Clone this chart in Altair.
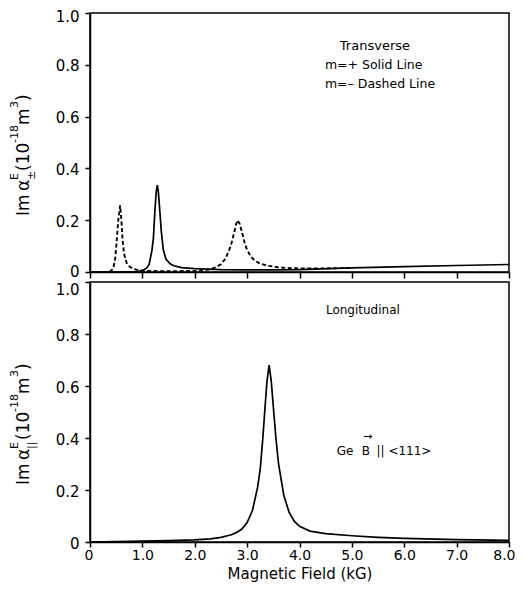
import altair as alt
import pandas as pd

# ---------------- data ----------------
# Transverse, m=+ (solid line)
plus_field = [0, 0.5, 0.9, 1.0, 1.08, 1.13, 1.18, 1.21, 1.24, 1.265, 1.285, 1.305, 1.335, 1.36,
              1.4, 1.45, 1.53, 1.6, 1.75, 2.0, 2.5, 3.0, 3.5, 4.0, 5.0, 6.0, 7.0, 8.0]
plus_value = [0, 0, 0.002, 0.005, 0.015, 0.03, 0.08, 0.13, 0.24, 0.31, 0.335, 0.31, 0.23, 0.16,
              0.085, 0.05, 0.032, 0.024, 0.017, 0.013, 0.009, 0.008, 0.008, 0.009, 0.016, 0.021, 0.025, 0.029]

# Transverse, m=- (dashed line)
minus_field = [0, 0.35, 0.41, 0.45, 0.48, 0.51, 0.54, 0.575, 0.6, 0.62, 0.65, 0.7, 0.76, 0.83,
               0.95, 1.1, 1.5, 2.0, 2.2, 2.3, 2.4, 2.5, 2.58, 2.65, 2.7, 2.75, 2.79, 2.82, 2.86,
               2.9, 2.95, 3.0, 3.07, 3.15, 3.25, 3.4, 3.6, 3.8, 4.0, 4.5, 5.0]
minus_value = [0, 0, 0.005, 0.02, 0.05, 0.12, 0.2, 0.257, 0.2, 0.13, 0.07, 0.035, 0.02, 0.012,
               0.006, 0.004, 0.003, 0.004, 0.007, 0.011, 0.018, 0.03, 0.05, 0.08, 0.11, 0.15, 0.185,
               0.2, 0.185, 0.155, 0.115, 0.085, 0.06, 0.043, 0.032, 0.024, 0.018, 0.015, 0.014, 0.014, 0.016]

# Longitudinal
long_field = [0, 1.0, 1.5, 2.0, 2.3, 2.5, 2.7, 2.8, 2.9, 3.0, 3.1, 3.2, 3.25, 3.3, 3.35, 3.38,
              3.42, 3.46, 3.5, 3.55, 3.6, 3.7, 3.8, 3.9, 4.0, 4.2, 4.5, 5.0, 5.5, 6.0, 7.0, 8.0]
long_value = [0.0, 0.003, 0.005, 0.008, 0.012, 0.018, 0.028, 0.037, 0.05, 0.075, 0.12, 0.21, 0.28,
              0.40, 0.54, 0.62, 0.68, 0.62, 0.52, 0.40, 0.30, 0.18, 0.115, 0.08, 0.06, 0.042, 0.032,
              0.024, 0.018, 0.014, 0.009, 0.006]

x_ticks = [0, 1, 2, 3, 4, 5, 6, 7, 8]
y_ticks = [0, 0.2, 0.4, 0.6, 0.8, 1.0]

# annotations
top_notes = ["Transverse", "m=+ Solid Line", "m=– Dashed Line"]
bottom_notes = ["Longitudinal", "Ge", "B", "|| <111>", "→"]

FONT = "DejaVu Sans"
W, H1, H2 = 419, 259, 260

xscale = alt.Scale(domain=[0, 8], nice=False, zero=False)
yscale = alt.Scale(domain=[0, 1], nice=False, zero=False)
lab_expr = "datum.value == 0 ? '0' : format(datum.value, '.1f')"


def yaxis(top_shift, top_baseline, zero_shift):
    return alt.Axis(values=y_ticks, labelExpr=lab_expr, title=None, grid=False,
                    tickSize=5, labelFontSize=15, labelPadding=6,
                    labelOffset=alt.expr(
                        f"datum.value == 1 ? {top_shift} : (datum.value == 0 ? {zero_shift} : 1)"),
                    labelBaseline={"condition": {"test": "datum.value == 1", "value": top_baseline},
                                   "value": "middle"})


def xaxis(show_labels):
    if show_labels:
        return alt.Axis(values=x_ticks, labelExpr=lab_expr, title="Magnetic Field (kG)",
                        grid=False, tickSize=5, labelFontSize=14, labelPadding=1,
                        titleFontSize=15, titleFontWeight="normal", titlePadding=4,
                        labelFlush=True, labelFlushOffset=6)
    return alt.Axis(values=x_ticks, labels=False, title=None, grid=False, tickSize=6)


def curve(field, value, show_axes, labels=False, dash=None, width=1.6, ytop=(3, "middle", -1)):
    df = pd.DataFrame({"f": field, "v": value})
    kw = dict(color="black", strokeWidth=width, clip=True)
    if dash:
        kw["strokeDash"] = dash
    if show_axes:
        x = alt.X("f:Q", scale=xscale, axis=xaxis(labels))
        y = alt.Y("v:Q", scale=yscale, axis=yaxis(*ytop))
    else:
        x = alt.X("f:Q", scale=xscale)
        y = alt.Y("v:Q", scale=yscale)
    return alt.Chart(df).mark_line(**kw).encode(x=x, y=y)


def note(text, fx, fy, size, align="left", baseline="middle"):
    df = pd.DataFrame({"f": [fx], "v": [fy], "t": [text]})
    return alt.Chart(df).mark_text(font=FONT, fontSize=size, align=align, baseline=baseline,
                                   color="black").encode(
        x=alt.X("f:Q", scale=xscale),
        y=alt.Y("v:Q", scale=yscale),
        text="t:N")


def ytitle(sub):
    pieces = [
        ("Im", -61, 203, 17),
        ("α", -61, 178, 17),
        ("E", -72, 167, 11),
        (sub, -55, 167, 11),
        ("(10", -61, 158, 17),
        ("-18", -72, 130, 11),
        ("m", -61, 112, 17),
        ("3", -72, 95, 11),
        (")", -61, 88, 17),
    ]
    layers = []
    for t, dx, dy, s in pieces:
        layers.append(
            alt.Chart(pd.DataFrame({"t": [t]})).mark_text(
                font=FONT, fontSize=s, angle=270, align="left", baseline="alphabetic",
                color="black").encode(x=alt.value(dx), y=alt.value(dy), text="t:N"))
    return layers


top = alt.layer(
    curve(plus_field, plus_value, True, False, width=1.7, ytop=(3, "middle", -1)),
    curve(minus_field, minus_value, False, dash=[4, 2.5], width=1.9),
    note(top_notes[0], 5.44, 0.874, 13, align="center"),
    note(top_notes[1], 4.485, 0.798, 12.5),
    note(top_notes[2], 4.485, 0.726, 12.5),
    *ytitle("±"),
).properties(width=W, height=H1)

bottom = alt.layer(
    curve(long_field, long_value, True, True, width=1.7, ytop=(0, "top", 1)),
    note(bottom_notes[0], 5.21, 0.893, 12, align="center"),
    note(bottom_notes[1], 4.71, 0.3345, 12, baseline="alphabetic"),
    note(bottom_notes[2], 5.19, 0.3345, 12, baseline="alphabetic"),
    note(bottom_notes[3], 5.47, 0.3345, 12, baseline="alphabetic"),
    note(bottom_notes[4], 5.3, 0.405, 11, align="center"),
    *ytitle("||"),
).properties(width=W, height=H2)

chart = alt.vconcat(top, bottom, spacing=10, bounds="flush").properties(
    padding={"left": 0, "top": 0, "right": 0, "bottom": 0},
    background="white",
).configure_view(
    stroke="black", strokeWidth=1.5
).configure_axis(
    domainColor="black", domainWidth=1.5, tickColor="black", tickWidth=1.5,
    labelColor="black", titleColor="black", labelFont=FONT, titleFont=FONT,
)

chart.save("out.html", embed_options={"renderer": "svg", "actions": False})
